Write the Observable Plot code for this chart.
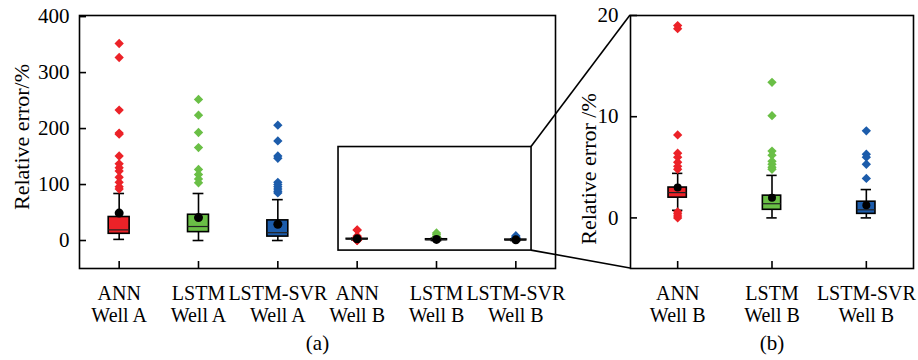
<!DOCTYPE html>
<html><head><meta charset="utf-8">
<script src="https://cdn.jsdelivr.net/npm/d3@7"></script>
<script src="https://cdn.jsdelivr.net/npm/@observablehq/plot@0.6"></script>
<style>
body{margin:0;background:#fff;}
#wrap{position:relative;width:918px;height:360px;background:#fff;}
#wrap svg{position:absolute;top:0;}
#wrap svg, #wrap svg text{font-family:"Liberation Serif","Times New Roman",serif !important;}
</style></head><body><div id="wrap"></div>
<script>
// ---- data ----
const categoriesA = ["ANN\nWell A","LSTM\nWell A","LSTM-SVR\nWell A","ANN\nWell B","LSTM\nWell B","LSTM-SVR\nWell B"];
const categoriesB = ["ANN\nWell B","LSTM\nWell B","LSTM-SVR\nWell B"];
const modelA = ["ANN","LSTM","LSTM-SVR","ANN","LSTM","LSTM-SVR"];
const whiskerLow  = [2,  0,  0,  0.75, 0,   0];
const q1          = [12, 15, 7,  2.0,  0.8, 0.4];
const median      = [19, 25, 14, 2.5,  1.4, 0.8];
const q3          = [42, 46, 36, 3.0,  2.2, 1.6];
const whiskerHigh = [84, 84, 73, 4.4,  4.2, 2.8];
const meanVal     = [49, 41, 29, 3.0,  2.0, 1.25];
const outliersANN_A  = [352, 327, 233, 192, 190, 151, 137, 130, 124, 113, 104, 96, 92];
const outliersLSTM_A = [252, 224, 193, 166, 127, 118, 110, 103];
const outliersSVR_A  = [206, 178, 151, 147, 104, 100, 96, 92, 88, 85];
const outliersANN_B  = [19.0, 18.7, 8.2, 6.4, 6.0, 5.5, 5.1, 4.8, 0.6, 0.4, 0.2, 0.0];
const outliersLSTM_B = [13.4, 10.1, 6.6, 6.2, 5.6, 5.3, 5.0, 4.8];
const outliersSVR_B  = [8.6, 6.3, 6.0, 5.3, 3.9];
const yTicksA = [0, 100, 200, 300, 400];
const yTicksB = [0, 10, 20];
const models = ["ANN","LSTM","LSTM-SVR"];
const modelColors = ["#ec2228", "#6abf46", "#1c5cab"];
// zoom window drawn on panel (a), in data units (category index, relative error)
const zoomX = [2.765, 5.198];
const zoomY = [-18, 167];

// ---- build tables ----
const outliersAll = [outliersANN_A, outliersLSTM_A, outliersSVR_A, outliersANN_B, outliersLSTM_B, outliersSVR_B];
const rowsA = categoriesA.map((c, i) => ({i, c, model: modelA[i], lo: whiskerLow[i], q1: q1[i], med: median[i], q3: q3[i], hi: whiskerHigh[i], mean: meanVal[i]}));
const ptsA = rowsA.flatMap(r => outliersAll[r.i].map(v => ({i: r.i, v, model: r.model})));
const rowsB = rowsA.slice(3).map((r, j) => ({...r, i: j}));
const ptsB = ptsA.filter(p => p.i >= 3).map(p => ({...p, i: p.i - 3}));

const FONT = '"Liberation Serif", "Times New Roman", serif';

function boxMarks(rows, pts, boxW, capW, r, meanR) {
  return [
    Plot.ruleX(rows, {x: "i", y1: "lo", y2: "hi", stroke: "black", strokeWidth: 1.6}),
    Plot.ruleY(rows, {y: "lo", x1: d => d.i - capW, x2: d => d.i + capW, stroke: "black", strokeWidth: 1.6}),
    Plot.ruleY(rows, {y: "hi", x1: d => d.i - capW, x2: d => d.i + capW, stroke: "black", strokeWidth: 1.6}),
    Plot.rect(rows, {x1: d => d.i - boxW, x2: d => d.i + boxW, y1: "q1", y2: "q3", fill: "model", stroke: "black", strokeWidth: 1.6}),
    Plot.ruleY(rows, {y: "med", x1: d => d.i - boxW, x2: d => d.i + boxW, stroke: "#222", strokeWidth: 1.2}),
    Plot.dot(pts, {x: "i", y: "v", symbol: "diamond2", fill: "model", r, stroke: "none"}),
    Plot.dot(rows, {x: "i", y: "mean", fill: "black", r: meanR, stroke: "none"})
  ];
}

const chartA = Plot.plot({
  width: 600, height: 360,
  marginLeft: 79, marginRight: 45, marginTop: 15, marginBottom: 92,
  style: {fontFamily: FONT, fontSize: "21px", color: "black", background: "transparent", overflow: "visible"},
  x: {domain: [-0.5, 5.5]},
  y: {domain: [-50, 402]},
  color: {domain: models, range: modelColors},
  marks: [
    ...boxMarks(rowsA, ptsA, 0.132, 0.068, 4.2, 4.5),
    Plot.rect([0], {x1: () => zoomX[0], x2: () => zoomX[1], y1: () => zoomY[0], y2: () => zoomY[1], fill: "none", stroke: "black", strokeWidth: 1.6}),
    Plot.frame({stroke: "black", strokeWidth: 1.6}),
    Plot.axisX({ticks: categoriesA.map((_, i) => i), tickSize: 7, dy: -7, fill: "none", label: null, strokeWidth: 1.6}),
    Plot.axisX({ticks: categoriesA.map((_, i) => i), tickFormat: i => categoriesA[i], tickSize: 0, tickPadding: 16, label: null, fontSize: 20, lineHeight: 1.1}),
    Plot.axisY({ticks: yTicksA, tickSize: 7, dx: 7, fill: "none", label: null, strokeWidth: 1.6}),
    Plot.axisY({ticks: yTicksA, tickSize: 0, tickPadding: 10, label: null, fontSize: 21}),
    Plot.text(["Relative error/%"], {text: d => d, frameAnchor: "left", textAnchor: "middle", rotate: -90, dx: -58, dy: -5, fontSize: 22}),
    Plot.text(["(a)"], {text: d => d, frameAnchor: "bottom", dy: 81, fontSize: 21})
  ]
});

const chartB = Plot.plot({
  width: 358, height: 360,
  marginLeft: 70, marginRight: 5, marginTop: 15, marginBottom: 92,
  style: {fontFamily: FONT, fontSize: "21px", color: "black", background: "transparent", overflow: "visible"},
  x: {domain: [-0.5, 2.5]},
  y: {domain: [-5, 20]},
  color: {domain: models, range: modelColors},
  marks: [
    ...boxMarks(rowsB, ptsB, 0.097, 0.055, 4.2, 4),
    Plot.frame({stroke: "black", strokeWidth: 1.6}),
    Plot.axisX({ticks: categoriesB.map((_, i) => i), tickSize: 7, dy: -7, fill: "none", label: null, strokeWidth: 1.6}),
    Plot.axisX({ticks: categoriesB.map((_, i) => i), tickFormat: i => categoriesB[i], tickSize: 0, tickPadding: 16, label: null, fontSize: 20, lineHeight: 1.1}),
    Plot.axisY({ticks: yTicksB, tickSize: 7, dx: 7, fill: "none", label: null, strokeWidth: 1.6}),
    Plot.axisY({ticks: yTicksB, tickSize: 0, tickPadding: 12, label: null, fontSize: 21}),
    Plot.text(["Relative error /%"], {text: d => d, frameAnchor: "left", textAnchor: "middle", rotate: -90, dx: -42, dy: 27, fontSize: 22}),
    Plot.text(["(b)"], {text: d => d, frameAnchor: "bottom", dy: 81, fontSize: 21})
  ]
});

const wrap = document.getElementById("wrap");
chartA.style.left = "0px";
chartB.style.left = "560px";
wrap.appendChild(chartA);
wrap.appendChild(chartB);

// connector lines from zoom window on (a) to frame of (b), positions from the scales
const offB = 560;
const xa = chartA.scale("x"), ya = chartA.scale("y");
const xb = chartB.scale("x"), yb = chartB.scale("y");
const links = [
  [xa.apply(zoomX[1]), ya.apply(zoomY[1]), offB + xb.apply(xb.domain[0]), yb.apply(yb.domain[1])],
  [xa.apply(zoomX[1]), ya.apply(zoomY[0]), offB + xb.apply(xb.domain[0]), yb.apply(yb.domain[0])]
];
const ov = d3.select(wrap).append("svg").attr("width", 918).attr("height", 360).style("left", "0px").style("pointer-events", "none");
ov.selectAll("line").data(links).join("line")
  .attr("x1", d => d[0]).attr("y1", d => d[1]).attr("x2", d => d[2]).attr("y2", d => d[3])
  .attr("stroke", "black").attr("stroke-width", 1.6);
</script></body></html>
